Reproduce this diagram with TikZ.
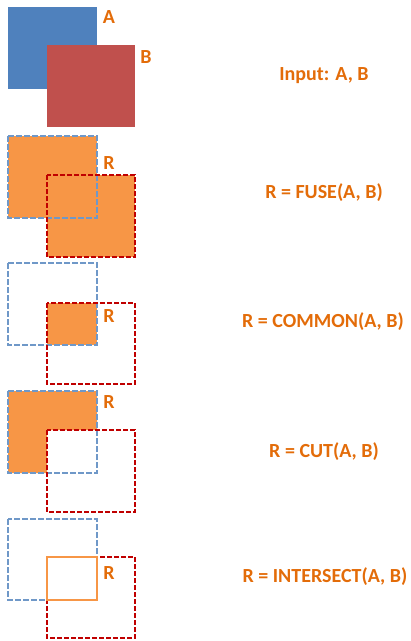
\documentclass[tikz,border=0pt]{standalone}
\usepackage{fontspec}
\setmainfont{Carlito}
\definecolor{ablue}{HTML}{4F81BD}
\definecolor{bred}{HTML}{C0504D}
\definecolor{rorange}{HTML}{F79646}
\definecolor{txtorange}{HTML}{E36C09}
\definecolor{dblue}{HTML}{6F98C8}
\definecolor{dred}{HTML}{C00000}
\tikzset{
  lbl/.style={text=txtorange, font=\fontsize{20}{22}\selectfont\bfseries, inner sep=0pt},
  bluedash/.style={draw=dblue, line width=1.5pt, dash pattern=on 6pt off 2pt},
  reddash/.style={draw=dred, line width=2pt, dash pattern=on 5pt off 2pt},
}
\begin{document}
\begin{tikzpicture}[x=1pt,y=-1pt]
\useasboundingbox (0,0) rectangle (411,641);
% Row 1: input
\fill[ablue] (8,7) rectangle (97,89);
\fill[bred] (47,45) rectangle (135,127);
\node[lbl] (la) at (109,17) {A};
\node[lbl] (lb) at (146,57) {B};
\node[lbl] (t1) at (324,76) {Input: A, B};
% Row 2: fuse
\fill[rorange] (8,136) rectangle (97,218);
\fill[rorange] (47,175) rectangle (135,257);
\draw[bluedash] (8,136) rectangle (97,218);
\draw[reddash] (47,175) rectangle (135,257);
\node[lbl] (r2) at (109,163) {R};
\node[lbl] (t2) at (324,193) {R = FUSE(A, B)};
% Row 3: common
\fill[rorange] (47,303) rectangle (97,345);
\draw[bluedash] (8,263) rectangle (97,345);
\draw[reddash] (47,303) rectangle (135,384);
\node[lbl] (r3) at (109,316) {R};
\node[lbl] (t3) at (323,322) {R = COMMON(A, B)};
% Row 4: cut
\fill[rorange] (8,391) -- (97,391) -- (97,430) -- (47,430) -- (47,473) -- (8,473) -- cycle;
\draw[bluedash] (8,391) rectangle (97,473);
\draw[reddash] (47,430) rectangle (135,512);
\node[lbl] (r4) at (109,402) {R};
\node[lbl] (t4) at (324,452) {R = CUT(A, B)};
% Row 5: intersect
\draw[bluedash] (8,519) rectangle (97,600);
\draw[reddash] (47,557) rectangle (135,638);
\draw[rorange, line width=1.5pt] (47,557) rectangle (97,600);
\node[lbl] (r5) at (109,573) {R};
\node[lbl] (t5) at (325,577) {R = INTERSECT(A, B)};
\end{tikzpicture}
\end{document}
